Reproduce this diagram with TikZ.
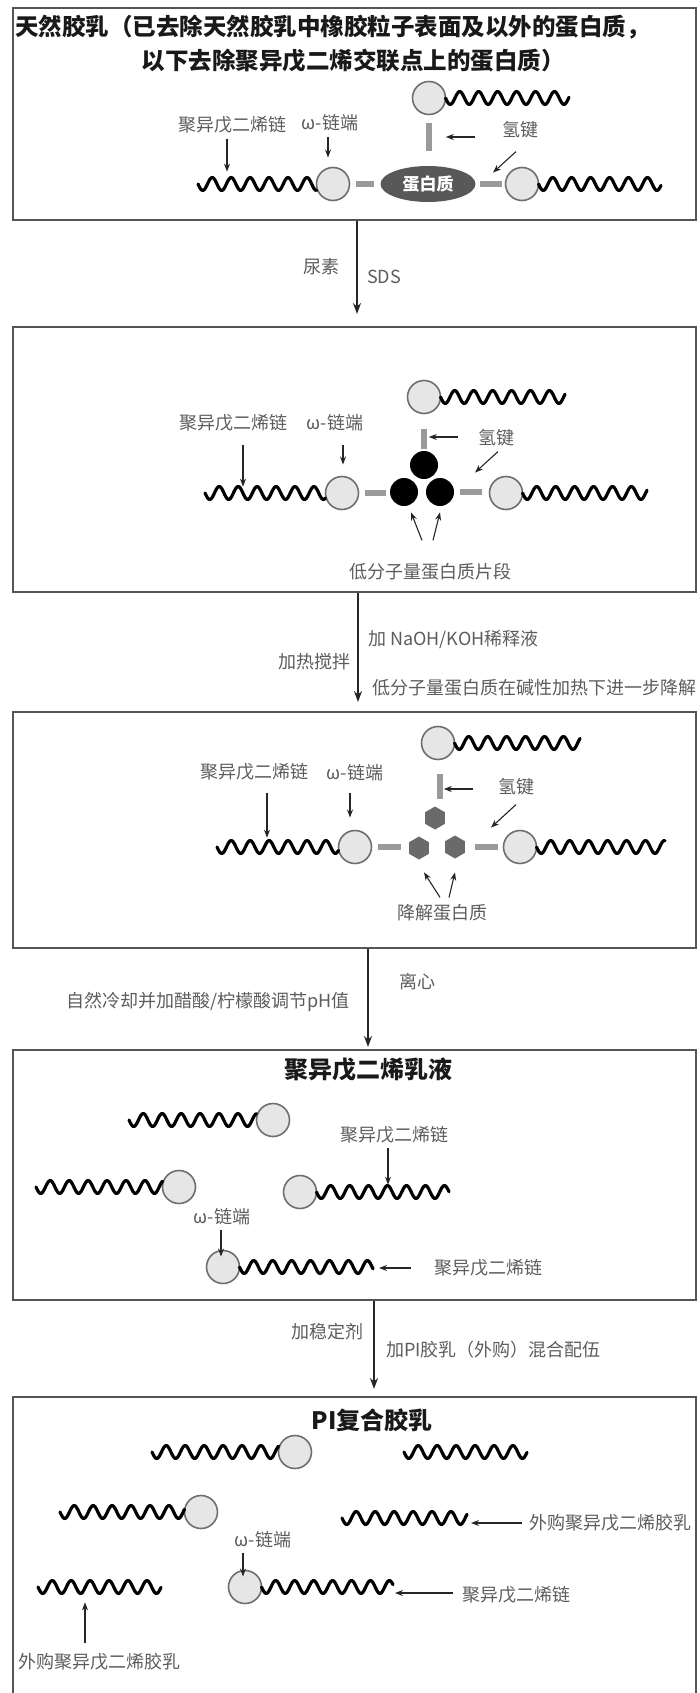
\documentclass[tikz,border=0pt]{standalone}
\usepackage{fontspec}
\setmainfont{Noto Sans CJK SC}
\usepackage{xcolor}
\usepackage{tikz}
\usetikzlibrary{shapes.geometric, arrows.meta}

\definecolor{inkgray}{HTML}{5C5C5C}
\definecolor{framegray}{HTML}{555555}
\definecolor{ringgray}{HTML}{6E6E6E}
\definecolor{ballgray}{HTML}{E6E6E6}
\definecolor{bondgray}{HTML}{9A9A9A}
\definecolor{protgray}{HTML}{585858}
\definecolor{hexgray}{HTML}{6A6A6A}

\tikzstyle{panel} = [draw=framegray, line width=2pt, inner sep=0pt]
\tikzstyle{flow} = [line width=1.4pt, draw=black!85, -{Stealth[length=11pt,width=8pt]}]
\tikzstyle{arrow} = [line width=1.1pt, draw=black!85, -{Stealth[length=8pt,width=6pt]}]
\tikzstyle{lbl} = [text=inkgray, inner sep=0pt, font=\fontsize{18}{20}\selectfont]
\tikzstyle{head} = [text=black!90, inner sep=0pt, font=\bfseries\fontsize{24}{27}\selectfont]
\tikzstyle{omega} = [circle, draw=ringgray, fill=ballgray, line width=1.6pt, minimum size=33pt, inner sep=0pt]
\tikzstyle{bond} = [draw=bondgray, line width=6pt]
\tikzstyle{wave} = [line width=3.2pt, line join=round, line cap=round]
\tikzstyle{frag} = [circle, fill=black, minimum size=28pt, inner sep=0pt]
\tikzstyle{piece} = [regular polygon, regular polygon sides=6, shape border rotate=30, fill=hexgray, minimum size=23pt, inner sep=0pt]
\tikzstyle{prot} = [ellipse, fill=protgray, minimum width=95pt, minimum height=36pt, inner sep=0pt, text=white, font=\bfseries\fontsize{17}{19}\selectfont]

% wavy chain from x=#1 to x=#2 at height #3
\newcommand{\wavy}[3]{\draw[wave] plot[domain=#1:#2, samples=100, smooth] (\x, {#3+6.5*sin(19*(\x-#1))});}

\begin{document}
\begin{tikzpicture}[x=1pt, y=-1pt]
\useasboundingbox (0,0) rectangle (700,1693);

% Frames:
\node[panel, minimum width=683pt, minimum height=212pt] (b1) at (354.5,114) {};
\node[panel, minimum width=683pt, minimum height=265pt] (b2) at (354.5,459.5) {};
\node[panel, minimum width=683pt, minimum height=236pt] (b3) at (354.5,830) {};
\node[panel, minimum width=683pt, minimum height=250pt] (b4) at (354.5,1175) {};
\node[panel, minimum width=683pt, minimum height=310pt] (b5) at (354.5,1552) {};

% Process steps:
\foreach \a/\b/\dx/\gap in {b1/b2/2.5/12, b2/b3/3.5/9, b3/b4/13.5/2, b4/b5/19.5/7}
{
	\draw[flow] ([xshift=\dx pt]\a.south) -- ([xshift=\dx pt, yshift=\gap pt]\b.north);
}
\node[lbl] (s1a) at (321,267) {尿素};
\node[lbl] (s1b) at (384,277) {SDS};
\node[lbl, anchor=west] (s2a) at (368,640) {加 NaOH/KOH稀释液};
\node[lbl, anchor=east] (s2b) at (351,662) {加热搅拌};
\node[lbl, anchor=west] (s2c) at (372,688) {低分子量蛋白质在碱性加热下进一步降解};
\node[lbl] (s3a) at (417,982) {离心};
\node[lbl, anchor=east] (s3b) at (350,1002) {自然冷却并加醋酸/柠檬酸调节pH值};
\node[lbl] (s4a) at (327,1332) {加稳定剂};
\node[lbl, anchor=west] (s4b) at (386,1350) {加PI胶乳（外购）混合配伍};

% Panel 1: natural latex
\node[head, anchor=west, font=\bfseries\fontsize{23.5}{26}\selectfont] (t1a) at (15,27) {天然胶乳（已去除天然胶乳中橡胶粒子表面及以外的蛋白质，};
\node[head, font=\bfseries\fontsize{23.5}{26}\selectfont] (t1b) at (353,61) {以下去除聚异戊二烯交联点上的蛋白质）};
\node[omega] (c1a) at (333,184) {};
\node[prot] (c1p) at (428,184) {蛋白质};
\node[omega] (c1b) at (522,184) {};
\node[omega] (c1c) at (429,98) {};
\wavy{198}{316.5}{184}
\wavy{538.5}{661}{184}
\wavy{445.5}{569}{98}
\draw[bond] ([xshift=5.5pt]c1a.east) -- ++(18,0);
\draw[bond] ([xshift=4.5pt]c1p.east) -- ++(22,0);
\draw[bond] ([yshift=-8pt]c1c.south) -- ++(0,28);
\node[lbl] (l1a) at (232,125) {聚异戊二烯链};
\node[lbl] (l1b) at (330,123) {ω-链端};
\node[lbl] (l1c) at (520,130) {氢键};
\draw[arrow] ([xshift=-5pt,yshift=-5pt]l1a.south) -- ++(0,33);
\draw[arrow] ([xshift=-2pt,yshift=-5pt]l1b.south) -- ++(0,21);
\draw[arrow] ([xshift=-27pt,yshift=-7pt]l1c.west) -- ++(-29,0);
\draw[arrow] ([xshift=-4pt,yshift=-13pt]l1c.south) -- ++(-23,21);

% Panel 2: low molecular weight fragments
\node[omega] (c2a) at (342,493) {};
\node[frag] (f2a) at (424,465) {};
\node[frag] (f2b) at (404,492) {};
\node[frag] (f2c) at (440,492) {};
\node[omega] (c2b) at (506,493) {};
\node[omega] (c2c) at (424,397) {};
\wavy{205}{325.5}{493}
\wavy{522.5}{647}{493}
\wavy{440.5}{565}{397}
\draw[bond] ([xshift=5.5pt]c2a.east) -- ++(21,0);
\draw[bond] ([xshift=6pt]f2c.east) -- ++(22,0);
\draw[bond] ([yshift=-14.5pt]c2c.south) -- ++(0,20);
\node[lbl] (l2a) at (233,423) {聚异戊二烯链};
\node[lbl] (l2b) at (335,423) {ω-链端};
\node[lbl] (l2c) at (496,438) {氢键};
\node[lbl] (l2d) at (430,572) {低分子量蛋白质片段};
\draw[arrow] ([xshift=10pt,yshift=-13pt]l2a.south) -- ++(0,42);
\draw[arrow] ([xshift=8pt,yshift=-13pt]l2b.south) -- ++(0,20);
\draw[arrow] ([xshift=-20pt,yshift=1pt]l2c.west) -- ++(-29,0);
\draw[arrow] ([xshift=2pt,yshift=-5pt]l2c.south) -- ++(-23,21);
\draw[arrow] ([xshift=-8pt,yshift=23pt]l2d.north) -- ++(-11,-28);
\draw[arrow] ([xshift=3pt,yshift=23pt]l2d.north) -- ++(7,-28);

% Panel 3: degraded protein
\node[omega] (c3a) at (355,847) {};
\node[piece] (h3a) at (435,818) {};
\node[piece] (h3b) at (419,848) {};
\node[piece] (h3c) at (455,847) {};
\node[omega] (c3b) at (520,847) {};
\node[omega] (c3c) at (438,743) {};
\wavy{217}{338.5}{847}
\wavy{536.5}{665}{847}
\wavy{454.5}{580}{743}
\draw[bond] ([xshift=5.5pt]c3a.east) -- ++(23,0);
\draw[bond] ([xshift=10pt]h3c.east) -- ++(23,0);
\draw[bond] ([xshift=2pt,yshift=-13.5pt]c3c.south) -- ++(0,25);
\node[lbl] (l3a) at (254,772) {聚异戊二烯链};
\node[lbl] (l3b) at (355,773) {ω-链端};
\node[lbl] (l3c) at (516,787) {氢键};
\node[lbl] (l3d) at (442,913) {降解蛋白质};
\draw[arrow] ([xshift=13pt,yshift=-12pt]l3a.south) -- ++(0,45);
\draw[arrow] ([xshift=-5pt,yshift=-11pt]l3b.south) -- ++(0,25);
\draw[arrow] ([xshift=-25pt,yshift=-2pt]l3c.west) -- ++(-29,0);
\draw[arrow] ([yshift=-9pt]l3c.south) -- ++(-25,23);
\draw[arrow] ([xshift=-2pt,yshift=7pt]l3d.north) -- ++(-16,-25);
\draw[arrow] ([xshift=7pt,yshift=7pt]l3d.north) -- ++(6,-25);

% Panel 4: polyisoprene emulsion
\node[head] (t4) at (368,1070) {聚异戊二烯乳液};
\node[omega] (c4a) at (273,1120) {};
\node[omega] (c4b) at (179,1187) {};
\node[omega] (c4c) at (300,1192) {};
\node[omega] (c4d) at (223,1267) {};
\wavy{129}{256.5}{1120}
\wavy{36}{162.5}{1187}
\wavy{316.5}{449}{1192}
\wavy{239.5}{373}{1267}
\node[lbl] (l4a) at (394,1135) {聚异戊二烯链};
\node[lbl] (l4b) at (222,1217) {ω-链端};
\node[lbl, anchor=west] (l4c) at (434,1268) {聚异戊二烯链};
\draw[arrow] ([xshift=-6pt,yshift=-4pt]l4a.south) -- ++(0,37);
\draw[arrow] ([xshift=-1pt,yshift=-4pt]l4b.south) -- ++(0,27);
\draw[arrow] ([xshift=-23pt]l4c.west) -- ++(-32,0);

% Panel 5: PI compound latex
\node[head] (t5) at (372,1420) {PI复合胶乳};
\node[omega] (c5a) at (295,1452) {};
\node[omega] (c5b) at (201,1512) {};
\node[omega] (c5c) at (245,1587) {};
\wavy{152}{278.5}{1452}
\wavy{404}{527}{1452}
\wavy{60}{184.5}{1512}
\wavy{342}{467}{1518}
\wavy{261.5}{393}{1587}
\wavy{38}{161}{1587}
\node[lbl, anchor=west] (l5a) at (529,1523) {外购聚异戊二烯胶乳};
\node[lbl] (l5b) at (263,1540) {ω-链端};
\node[lbl, anchor=west] (l5c) at (462,1595) {聚异戊二烯链};
\node[lbl, anchor=west] (l5d) at (18,1662) {外购聚异戊二烯胶乳};
\draw[arrow] ([xshift=-7pt]l5a.west) -- ++(-51,0);
\draw[arrow] ([xshift=-20pt,yshift=-4pt]l5b.south) -- ++(0,24);
\draw[arrow] ([xshift=-9pt,yshift=2pt]l5c.west) -- ++(-58,0);
\draw[arrow] ([xshift=67pt,yshift=10pt]l5d.north west) -- ++(0,-41);

\end{tikzpicture}
\end{document}
